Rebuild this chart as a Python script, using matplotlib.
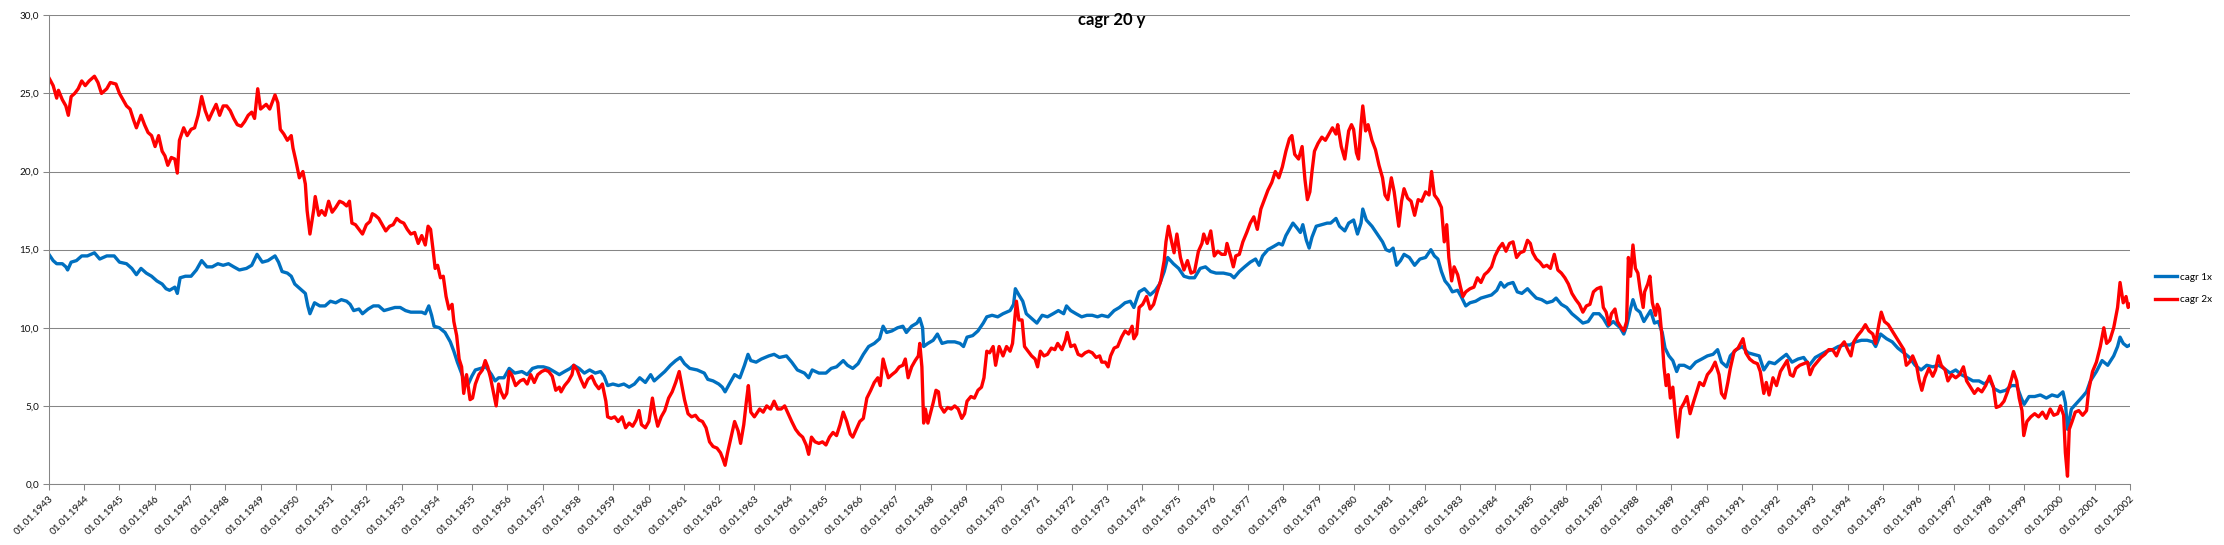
"""
cagr 20 y: rolling 20-year CAGR, 1x vs 2x, 1943-2002.
Values read off the original Excel chart (decimal years).
"""
import matplotlib
matplotlib.use("Agg")
import matplotlib.pyplot as plt
from matplotlib.ticker import FixedLocator, FuncFormatter

plt.rcParams.update({
    "font.family": ["Lato", "DejaVu Sans"],
    "font.size": 7.2,
})

BLUE_C, RED_C, GRID_C = "#0070C0", "#FF0000", "#868686"

# ---------- data ----------
years = list(range(1943, 2003))

dates_1x = [
    1943.00, 1943.12, 1943.22, 1943.38, 1943.48, 1943.53, 1943.63, 1943.78, 1943.93, 1944.09,
    1944.29, 1944.44, 1944.64, 1944.85, 1945.00, 1945.20, 1945.35, 1945.48, 1945.61, 1945.76,
    1945.91, 1946.06, 1946.21, 1946.32, 1946.42, 1946.57, 1946.64, 1946.72, 1946.87, 1947.03,
    1947.18, 1947.33, 1947.48, 1947.63, 1947.79, 1947.94, 1948.09, 1948.24, 1948.40, 1948.60,
    1948.75, 1948.90, 1949.05, 1949.21, 1949.41, 1949.51, 1949.61, 1949.76, 1949.87, 1949.97,
    1950.12, 1950.27, 1950.34, 1950.40, 1950.53, 1950.68, 1950.83, 1950.98, 1951.13, 1951.29,
    1951.44, 1951.54, 1951.64, 1951.79, 1951.89, 1952.05, 1952.20, 1952.35, 1952.50, 1952.66,
    1952.81, 1952.96, 1953.11, 1953.26, 1953.42, 1953.57, 1953.67, 1953.77, 1953.85, 1953.92,
    1954.07, 1954.23, 1954.38, 1954.48, 1954.58, 1954.68, 1954.78, 1954.89, 1954.99, 1955.09,
    1955.24, 1955.39, 1955.55, 1955.65, 1955.75, 1955.90, 1956.05, 1956.21, 1956.41, 1956.56,
    1956.71, 1956.86, 1957.02, 1957.17, 1957.32, 1957.47,
    1957.62, 1957.78, 1957.88, 1958.03, 1958.18, 1958.33, 1958.49, 1958.64, 1958.74, 1958.84,
    1958.99, 1959.15, 1959.30, 1959.45, 1959.60, 1959.75, 1959.91, 1960.06, 1960.16, 1960.31,
    1960.46, 1960.62, 1960.77, 1960.90, 1961.02, 1961.17, 1961.38, 1961.58, 1961.68, 1961.83,
    1961.99, 1962.09, 1962.17, 1962.29, 1962.44, 1962.59, 1962.72, 1962.82, 1962.90, 1963.05,
    1963.20, 1963.41, 1963.56, 1963.71, 1963.91, 1964.06, 1964.22, 1964.42, 1964.54, 1964.64,
    1964.83, 1965.03, 1965.18, 1965.33, 1965.52, 1965.64, 1965.79, 1965.94, 1966.09, 1966.24,
    1966.40, 1966.55, 1966.65, 1966.75, 1966.90, 1967.06, 1967.21, 1967.31, 1967.46, 1967.61,
    1967.69, 1967.77, 1967.80, 1967.92, 1968.07, 1968.19, 1968.32, 1968.48, 1968.68, 1968.83,
    1968.93, 1969.03, 1969.19, 1969.34, 1969.49, 1969.59, 1969.74, 1969.90, 1970.05, 1970.25,
    1970.35, 1970.40, 1970.50, 1970.61, 1970.71, 1970.86, 1971.01, 1971.16, 1971.31, 1971.47,
    1971.62, 1971.77, 1971.85, 1971.97, 1972.12, 1972.28, 1972.43, 1972.58, 1972.73,
    1972.85, 1973.03, 1973.20, 1973.35, 1973.51, 1973.66, 1973.76, 1973.91, 1974.06, 1974.22,
    1974.37, 1974.49, 1974.62, 1974.72, 1974.88, 1975.03, 1975.18, 1975.33, 1975.48, 1975.64,
    1975.79, 1975.94, 1976.09, 1976.30, 1976.50, 1976.60, 1976.75, 1976.90, 1977.06, 1977.21,
    1977.31, 1977.41, 1977.56, 1977.72, 1977.87, 1977.97, 1978.07, 1978.17, 1978.27, 1978.38,
    1978.48, 1978.55, 1978.65, 1978.73, 1978.81, 1978.93, 1979.09, 1979.24, 1979.34, 1979.49,
    1979.59, 1979.74, 1979.85, 1979.99, 1980.10, 1980.20, 1980.25, 1980.35, 1980.51, 1980.66,
    1980.81, 1980.91, 1981.01, 1981.11, 1981.21, 1981.32, 1981.42, 1981.57, 1981.72, 1981.87,
    1982.03, 1982.18, 1982.28, 1982.38, 1982.48, 1982.58, 1982.69, 1982.79, 1982.94, 1983.04,
    1983.17, 1983.29, 1983.45, 1983.60, 1983.75, 1983.90, 1984.05, 1984.16, 1984.26, 1984.36,
    1984.51, 1984.63, 1984.76, 1984.92, 1985.04, 1985.17, 1985.32, 1985.47, 1985.63, 1985.73,
    1985.88, 1986.03, 1986.18, 1986.34, 1986.49, 1986.64, 1986.79, 1986.95, 1987.07, 1987.20,
    1987.35, 1987.45, 1987.55,
    1987.65, 1987.73, 1987.84, 1987.91, 1988.00, 1988.11, 1988.22, 1988.33, 1988.41, 1988.52,
    1988.63, 1988.74, 1988.82, 1988.93, 1989.04, 1989.15, 1989.22, 1989.36, 1989.53, 1989.69,
    1989.86, 1990.02, 1990.18, 1990.31, 1990.42, 1990.57, 1990.67, 1990.84, 1991.01, 1991.17,
    1991.33, 1991.49, 1991.62, 1991.77, 1991.93, 1992.09, 1992.26, 1992.42, 1992.59, 1992.75,
    1992.91, 1993.08, 1993.24, 1993.40, 1993.57, 1993.73, 1993.90, 1994.06, 1994.22, 1994.39,
    1994.55, 1994.71, 1994.79, 1994.93, 1995.10, 1995.26, 1995.42, 1995.59, 1995.75, 1995.91,
    1996.08, 1996.24, 1996.41, 1996.57, 1996.73, 1996.90, 1997.06, 1997.22, 1997.39, 1997.55,
    1997.72, 1997.88, 1998.02, 1998.15, 1998.32, 1998.48, 1998.64, 1998.79, 1998.92, 1999.00,
    1999.14, 1999.30, 1999.46, 1999.63, 1999.79, 1999.95, 2000.10, 2000.17, 2000.23, 2000.34,
    2000.50, 2000.66, 2000.77, 2000.88, 2001.05, 2001.21, 2001.37, 2001.54, 2001.65, 2001.72,
    2001.81, 2001.92, 2002.00,
]
cagr_1x = [
    14.7, 14.3, 14.1, 14.1, 13.9, 13.7, 14.2, 14.3, 14.6, 14.6,
    14.8, 14.4, 14.6, 14.6, 14.2, 14.1, 13.8, 13.4, 13.8, 13.5,
    13.3, 13.0, 12.8, 12.5, 12.4, 12.6, 12.2, 13.2, 13.3, 13.3,
    13.7, 14.3, 13.9, 13.9, 14.1, 14.0, 14.1, 13.9, 13.7, 13.8,
    14.0, 14.7, 14.2, 14.3, 14.6, 14.2, 13.6, 13.5, 13.3, 12.8,
    12.5, 12.2, 11.4, 10.9, 11.6, 11.4, 11.4, 11.7, 11.6, 11.8,
    11.7, 11.5, 11.1, 11.2, 10.9, 11.2, 11.4, 11.4, 11.1, 11.2,
    11.3, 11.3, 11.1, 11.0, 11.0, 11.0, 10.9, 11.4, 10.8, 10.1,
    10.0, 9.7, 9.1, 8.5, 7.8, 7.2, 6.6, 6.4, 6.9, 7.3,
    7.4, 7.5, 7.0, 6.6, 6.8, 6.8, 7.4, 7.1, 7.2, 7.0,
    7.4, 7.5, 7.5, 7.4, 7.2, 7.0,
    7.2, 7.4, 7.6, 7.4, 7.1, 7.3, 7.1, 7.2, 6.9, 6.3,
    6.4, 6.3, 6.4, 6.2, 6.4, 6.8, 6.5, 7.0, 6.6, 6.9,
    7.2, 7.6, 7.9, 8.1, 7.7, 7.4, 7.3, 7.1, 6.7, 6.6,
    6.4, 6.2, 5.9, 6.4, 7.0, 6.8, 7.6, 8.3, 7.9, 7.8,
    8.0, 8.2, 8.3, 8.1, 8.2, 7.8, 7.3, 7.1, 6.8, 7.3,
    7.1, 7.1, 7.4, 7.5, 7.9, 7.6, 7.4, 7.7, 8.3, 8.8,
    9.0, 9.3, 10.1, 9.7, 9.8, 10.0, 10.1, 9.7, 10.1, 10.3,
    10.6, 10.0, 8.8, 9.0, 9.2, 9.6, 9.0, 9.1, 9.1, 9.0,
    8.8, 9.4, 9.5, 9.8, 10.3, 10.7, 10.8, 10.7, 10.9, 11.1,
    11.5, 12.5, 12.1, 11.7, 10.9, 10.6, 10.3, 10.8, 10.7, 10.9,
    11.1, 10.9, 11.4, 11.1, 10.9, 10.7, 10.8, 10.8, 10.7,
    10.8, 10.7, 11.1, 11.3, 11.6, 11.7, 11.3, 12.3, 12.5, 12.1,
    12.4, 12.8, 13.6, 14.5, 14.1, 13.8, 13.3, 13.2, 13.2, 13.8,
    13.9, 13.6, 13.5, 13.5, 13.4, 13.2, 13.6, 13.9, 14.2, 14.4,
    14.0, 14.6, 15.0, 15.2, 15.4, 15.3, 15.9, 16.3, 16.7, 16.4,
    16.1, 16.6, 15.6, 15.1, 15.8, 16.5, 16.6, 16.7, 16.7, 17.0,
    16.5, 16.2, 16.7, 16.9, 16.0, 16.7, 17.6, 16.9, 16.5, 16.0,
    15.5, 15.0, 14.9, 15.1, 14.0, 14.3, 14.7, 14.5, 14.0, 14.4,
    14.5, 15.0, 14.6, 14.4, 13.6, 13.0, 12.7, 12.3, 12.4, 12.0,
    11.4, 11.6, 11.7, 11.9, 12.0, 12.1, 12.4, 12.9, 12.6, 12.8,
    12.9, 12.3, 12.2, 12.5, 12.2, 11.9, 11.8, 11.6, 11.7, 11.9,
    11.5, 11.3, 10.9, 10.6, 10.3, 10.4, 10.9, 10.9, 10.6, 10.1,
    10.4, 10.2, 10.0,
    9.6, 10.1, 11.2, 11.8, 11.2, 11.0, 10.4, 10.8, 11.1, 10.3,
    10.4, 9.7, 8.7, 8.2, 7.9, 7.2, 7.6, 7.6, 7.4, 7.8,
    8.0, 8.2, 8.3, 8.6, 7.8, 7.5, 8.2, 8.6, 8.8, 8.4,
    8.3, 8.2, 7.3, 7.8, 7.7, 8.0, 8.3, 7.8, 8.0, 8.1,
    7.6, 8.1, 8.3, 8.5, 8.6, 8.8, 8.9, 8.9, 9.1, 9.2,
    9.2, 9.1, 8.8, 9.6, 9.3, 9.1, 8.7, 8.4, 8.1, 7.6,
    7.3, 7.6, 7.5, 7.6, 7.4, 7.1, 7.3, 7.0, 6.8, 6.6,
    6.6, 6.4, 6.7, 6.1, 5.9, 6.0, 6.3, 6.3, 5.5, 5.1,
    5.6, 5.6, 5.7, 5.5, 5.7, 5.6, 5.9, 5.2, 3.5, 4.8,
    5.2, 5.6, 5.9, 6.6, 7.2, 7.9, 7.6, 8.2, 8.8, 9.4,
    9.0, 8.8, 8.9,
]

dates_2x = [
    1943.00, 1943.12, 1943.22, 1943.27, 1943.38, 1943.48, 1943.55, 1943.63, 1943.73, 1943.83,
    1943.93, 1944.03, 1944.14, 1944.29, 1944.39, 1944.49, 1944.64, 1944.74, 1944.90, 1945.00,
    1945.10, 1945.20, 1945.30, 1945.40, 1945.48, 1945.61, 1945.71, 1945.81, 1945.91, 1946.01,
    1946.11, 1946.21, 1946.29, 1946.37, 1946.47, 1946.57, 1946.64, 1946.70, 1946.82, 1946.92,
    1947.03, 1947.13, 1947.23, 1947.33, 1947.43, 1947.53, 1947.63, 1947.74, 1947.84, 1947.94,
    1948.04, 1948.14, 1948.24, 1948.34, 1948.45, 1948.55, 1948.65, 1948.75, 1948.83, 1948.92,
    1949.00, 1949.16, 1949.26, 1949.41, 1949.49, 1949.56, 1949.66, 1949.76, 1949.87, 1949.92,
    1950.00, 1950.10, 1950.20, 1950.27, 1950.32, 1950.40, 1950.51, 1950.55, 1950.65, 1950.73,
    1950.83, 1950.93, 1951.03, 1951.13, 1951.24, 1951.34, 1951.44, 1951.52, 1951.59, 1951.69,
    1951.79, 1951.89, 1952.00, 1952.10, 1952.17, 1952.25, 1952.35, 1952.45, 1952.55, 1952.66,
    1952.76, 1952.86, 1952.96, 1953.06, 1953.16, 1953.26, 1953.37, 1953.47, 1953.57, 1953.67,
    1953.75, 1953.82, 1953.89, 1953.95, 1954.02, 1954.10, 1954.18, 1954.26, 1954.34, 1954.43,
    1954.48, 1954.56, 1954.63, 1954.70, 1954.76, 1954.84, 1954.94, 1955.01, 1955.09, 1955.19,
    1955.29, 1955.37, 1955.44, 1955.52, 1955.60, 1955.68, 1955.75, 1955.82, 1955.90, 1955.98,
    1956.05, 1956.12, 1956.23, 1956.36, 1956.46, 1956.56, 1956.66, 1956.76, 1956.86, 1956.97,
    1957.07, 1957.17, 1957.27, 1957.37, 1957.47,
    1957.52, 1957.62, 1957.73, 1957.83, 1957.88, 1957.98, 1958.08, 1958.18, 1958.28, 1958.39,
    1958.49, 1958.59, 1958.69, 1958.79, 1958.84, 1958.94, 1959.04, 1959.14, 1959.25, 1959.35,
    1959.45, 1959.55, 1959.65, 1959.73, 1959.80, 1959.91, 1960.01, 1960.11, 1960.18, 1960.26,
    1960.36, 1960.46, 1960.57, 1960.67, 1960.77, 1960.87, 1960.92, 1961.02, 1961.12, 1961.22,
    1961.33, 1961.43, 1961.53, 1961.63, 1961.73, 1961.83, 1961.94, 1962.04, 1962.11, 1962.17,
    1962.24, 1962.34, 1962.44, 1962.54, 1962.61, 1962.70, 1962.78, 1962.83, 1962.90, 1963.00,
    1963.15, 1963.25, 1963.35, 1963.46, 1963.56, 1963.66, 1963.76, 1963.86, 1963.96, 1964.06,
    1964.17, 1964.27, 1964.37, 1964.47, 1964.54, 1964.62, 1964.72, 1964.83, 1964.93, 1965.03,
    1965.13, 1965.23, 1965.33, 1965.43, 1965.52, 1965.62, 1965.72, 1965.79, 1965.89, 1965.99,
    1966.09, 1966.19, 1966.30, 1966.40, 1966.50, 1966.57, 1966.65, 1966.72, 1966.80, 1966.90,
    1967.01, 1967.11, 1967.21, 1967.28, 1967.36, 1967.46, 1967.56, 1967.65, 1967.69, 1967.75,
    1967.80, 1967.85, 1967.92, 1967.99, 1968.07, 1968.15, 1968.22, 1968.27, 1968.38, 1968.48,
    1968.58, 1968.68, 1968.78, 1968.88, 1968.96, 1969.03, 1969.14, 1969.24, 1969.34, 1969.44,
    1969.51, 1969.59, 1969.67, 1969.77, 1969.84, 1969.94, 1970.05, 1970.15, 1970.25, 1970.32,
    1970.38, 1970.43, 1970.50, 1970.59, 1970.66, 1970.76, 1970.86, 1970.96, 1971.03, 1971.11,
    1971.21, 1971.31, 1971.42, 1971.52, 1971.60, 1971.72, 1971.82, 1971.87, 1971.97, 1972.08,
    1972.18, 1972.28, 1972.38, 1972.48, 1972.58, 1972.69, 1972.79,
    1972.85, 1972.95, 1973.03, 1973.10, 1973.20, 1973.30, 1973.41, 1973.51, 1973.61, 1973.71,
    1973.76, 1973.84, 1973.91, 1974.01, 1974.12, 1974.22, 1974.32, 1974.42, 1974.52, 1974.62,
    1974.67, 1974.74, 1974.83, 1974.90, 1974.98, 1975.08, 1975.18, 1975.28, 1975.38, 1975.48,
    1975.59, 1975.69, 1975.74, 1975.84, 1975.94, 1975.99, 1976.04, 1976.14, 1976.25, 1976.35,
    1976.40, 1976.50, 1976.58, 1976.65, 1976.75, 1976.85, 1976.96, 1977.06, 1977.16, 1977.26,
    1977.36, 1977.46, 1977.56, 1977.67, 1977.77, 1977.87, 1977.97, 1978.07, 1978.17, 1978.24,
    1978.32, 1978.43, 1978.53, 1978.61, 1978.68, 1978.75, 1978.81, 1978.88, 1978.98, 1979.09,
    1979.19, 1979.29, 1979.39, 1979.49, 1979.54, 1979.64, 1979.74, 1979.85, 1979.93, 1979.99,
    1980.07, 1980.13, 1980.20, 1980.25, 1980.33, 1980.40, 1980.51, 1980.61, 1980.71, 1980.81,
    1980.88, 1980.96, 1981.06, 1981.14, 1981.21, 1981.27, 1981.35, 1981.42, 1981.52, 1981.62,
    1981.72, 1981.82, 1981.92, 1982.03, 1982.13, 1982.20, 1982.28, 1982.38, 1982.48, 1982.56,
    1982.63, 1982.69, 1982.77, 1982.84, 1982.94, 1983.02, 1983.09, 1983.17, 1983.29, 1983.40,
    1983.50, 1983.60, 1983.70, 1983.80, 1983.90, 1984.00, 1984.11, 1984.21, 1984.31, 1984.41,
    1984.51, 1984.61, 1984.71, 1984.82, 1984.92, 1985.00, 1985.07, 1985.17, 1985.27, 1985.37,
    1985.47, 1985.57, 1985.68, 1985.78, 1985.88, 1985.98, 1986.08, 1986.18, 1986.29, 1986.39,
    1986.49, 1986.59, 1986.69, 1986.79, 1986.89, 1987.00, 1987.07, 1987.15, 1987.23, 1987.30,
    1987.40, 1987.47, 1987.55,
    1987.65, 1987.73, 1987.78, 1987.84, 1987.91, 1987.98, 1988.05, 1988.11, 1988.20, 1988.24,
    1988.33, 1988.39, 1988.46, 1988.55, 1988.60, 1988.66, 1988.73, 1988.79, 1988.85, 1988.91,
    1988.97, 1989.04, 1989.11, 1989.18, 1989.26, 1989.36, 1989.44, 1989.53, 1989.62, 1989.69,
    1989.80, 1989.91, 1990.02, 1990.13, 1990.24, 1990.35, 1990.42, 1990.51, 1990.60, 1990.67,
    1990.78, 1990.89, 1991.03, 1991.11, 1991.22, 1991.33, 1991.44, 1991.52, 1991.62, 1991.69,
    1991.77, 1991.88, 1991.98, 1992.09, 1992.20, 1992.28, 1992.37, 1992.45, 1992.53, 1992.64,
    1992.75, 1992.86, 1992.93, 1993.02, 1993.13, 1993.24, 1993.35, 1993.46, 1993.57, 1993.68,
    1993.79, 1993.90, 1994.00, 1994.09, 1994.17, 1994.28, 1994.39, 1994.50, 1994.60, 1994.71,
    1994.79, 1994.88, 1994.95, 1995.04, 1995.15, 1995.26, 1995.37, 1995.48, 1995.59, 1995.66,
    1995.75, 1995.84, 1995.95, 1996.02, 1996.10, 1996.19, 1996.30, 1996.41, 1996.49, 1996.57,
    1996.65, 1996.76, 1996.84, 1996.95, 1997.06, 1997.17, 1997.28, 1997.37, 1997.48, 1997.59,
    1997.69, 1997.80, 1997.91, 1998.02, 1998.13, 1998.21, 1998.32, 1998.43, 1998.53, 1998.64,
    1998.70, 1998.79, 1998.86, 1998.94, 1998.99, 1999.08, 1999.19, 1999.30, 1999.41, 1999.52,
    1999.63, 1999.74, 1999.84, 1999.95, 2000.03, 2000.12, 2000.17, 2000.23, 2000.28, 2000.36,
    2000.45, 2000.55, 2000.66, 2000.77, 2000.83, 2000.94, 2001.05, 2001.16, 2001.26, 2001.34,
    2001.43, 2001.54, 2001.65, 2001.72, 2001.81, 2001.89, 2001.95, 2002.00,
]
cagr_2x = [
    26.0, 25.5, 24.7, 25.2, 24.6, 24.2, 23.6, 24.8, 25.0, 25.3,
    25.8, 25.5, 25.8, 26.1, 25.7, 25.0, 25.3, 25.7, 25.6, 25.0,
    24.6, 24.2, 24.0, 23.3, 22.8, 23.6, 23.0, 22.5, 22.3, 21.6,
    22.3, 21.3, 21.0, 20.4, 20.9, 20.8, 19.9, 22.0, 22.8, 22.3,
    22.7, 22.8, 23.6, 24.8, 23.9, 23.3, 23.8, 24.3, 23.6, 24.2,
    24.2, 23.9, 23.4, 23.0, 22.9, 23.2, 23.6, 23.8, 23.4, 25.3,
    24.0, 24.3, 24.0, 24.9, 24.4, 22.7, 22.4, 22.0, 22.3, 21.5,
    20.7, 19.6, 20.0, 19.2, 17.5, 16.0, 17.6, 18.4, 17.2, 17.5,
    17.2, 18.1, 17.4, 17.7, 18.1, 18.0, 17.8, 18.1, 16.7, 16.6,
    16.3, 16.0, 16.6, 16.8, 17.3, 17.2, 17.0, 16.6, 16.2, 16.5,
    16.6, 17.0, 16.8, 16.7, 16.3, 16.0, 16.1, 15.4, 15.9, 15.3,
    16.5, 16.3, 15.0, 13.8, 14.0, 13.2, 13.3, 12.0, 11.2, 11.5,
    10.4, 9.5, 8.0, 7.5, 5.8, 7.0, 5.4, 5.5, 6.4, 7.0,
    7.3, 7.9, 7.5, 6.8, 5.9, 5.0, 6.4, 5.9, 5.5, 5.8,
    7.2, 7.0, 6.3, 6.6, 6.7, 6.4, 7.0, 6.5, 7.0, 7.2,
    7.3, 7.2, 6.9, 6.0, 6.2,
    5.9, 6.3, 6.6, 7.0, 7.6, 7.3, 6.7, 6.2, 6.7, 6.9,
    6.4, 6.1, 6.4, 5.3, 4.3, 4.2, 4.3, 4.0, 4.3, 3.6,
    3.9, 3.7, 4.1, 4.7, 3.8, 3.6, 4.0, 5.5, 4.5, 3.7,
    4.3, 4.7, 5.5, 5.9, 6.5, 7.2, 6.6, 5.4, 4.5, 4.3,
    4.4, 4.1, 4.0, 3.6, 2.7, 2.4, 2.3, 2.0, 1.6, 1.2,
    2.0, 3.0, 4.0, 3.4, 2.6, 3.8, 5.4, 6.3, 4.6, 4.3,
    4.8, 4.6, 5.0, 4.8, 5.3, 4.8, 4.8, 5.0, 4.5, 4.0,
    3.5, 3.2, 3.0, 2.5, 1.9, 3.0, 2.7, 2.6, 2.7, 2.5,
    3.0, 3.3, 3.1, 3.8, 4.6, 4.0, 3.2, 3.0, 3.5, 4.0,
    4.2, 5.5, 6.0, 6.5, 6.8, 6.3, 8.0, 7.4, 6.8, 7.0,
    7.2, 7.5, 7.6, 8.0, 6.8, 7.5, 7.9, 8.2, 9.0, 7.5,
    3.9, 4.8, 3.9, 4.5, 5.2, 6.0, 5.9, 5.0, 4.6, 4.9,
    4.8, 5.0, 4.8, 4.2, 4.5, 5.3, 5.6, 5.5, 6.0, 6.2,
    6.8, 8.5, 8.4, 8.8, 7.6, 8.8, 8.2, 8.8, 8.5, 9.0,
    10.5, 11.7, 10.5, 10.5, 8.8, 8.5, 8.2, 8.0, 7.5, 8.5,
    8.2, 8.3, 8.7, 8.6, 9.0, 8.6, 9.2, 9.7, 8.8, 8.9,
    8.3, 8.2, 8.4, 8.5, 8.4, 8.1, 8.2,
    7.8, 7.8, 7.5, 8.2, 8.7, 8.8, 9.4, 9.8, 9.6, 10.1,
    9.3, 9.6, 11.3, 11.5, 12.0, 11.2, 11.5, 12.3, 13.0, 14.3,
    15.5, 16.5, 15.5, 14.8, 16.0, 14.5, 13.7, 14.3, 13.5, 13.6,
    14.9, 15.4, 16.0, 15.4, 16.2, 15.4, 14.6, 14.9, 14.7, 14.7,
    15.4, 14.6, 13.9, 14.6, 14.7, 15.5, 16.1, 16.7, 17.1, 16.3,
    17.6, 18.2, 18.8, 19.3, 20.0, 19.6, 20.3, 21.3, 22.1, 22.3,
    21.1, 20.8, 21.6, 19.5, 18.2, 18.7, 20.0, 21.3, 21.8, 22.2,
    22.0, 22.4, 22.8, 22.4, 23.0, 21.6, 20.8, 22.6, 23.0, 22.7,
    21.2, 20.8, 23.0, 24.2, 22.6, 23.0, 22.0, 21.4, 20.4, 19.6,
    18.5, 18.2, 19.6, 18.7, 17.5, 16.5, 18.1, 18.9, 18.3, 18.1,
    17.2, 18.2, 18.1, 18.7, 18.5, 20.0, 18.5, 18.2, 17.7, 15.5,
    16.6, 14.5, 13.0, 13.9, 13.4, 12.6, 12.0, 12.3, 12.5, 12.6,
    13.2, 12.9, 13.4, 13.6, 13.9, 14.6, 15.1, 15.4, 14.9, 15.4,
    15.5, 14.5, 14.8, 14.9, 15.6, 15.4, 14.8, 14.4, 14.2, 13.9,
    14.0, 13.8, 14.7, 13.7, 13.5, 13.2, 12.8, 12.2, 11.8, 11.5,
    11.0, 11.4, 11.5, 12.3, 12.5, 12.6, 11.3, 11.0, 10.2, 10.9,
    11.2, 10.4, 10.1,
    9.8, 10.4, 14.5, 13.3, 15.3, 13.8, 13.5, 12.5, 11.3, 12.3,
    12.8, 13.3, 11.6, 10.8, 11.5, 11.2, 9.5, 7.5, 6.3, 7.0,
    5.5, 6.2, 4.5, 3.0, 4.8, 5.2, 5.6, 4.5, 5.2, 5.7,
    6.5, 6.3, 7.0, 7.3, 7.8, 7.0, 5.8, 5.5, 6.5, 7.4,
    8.5, 8.7, 9.3, 8.4, 8.0, 7.8, 7.7, 7.2, 5.8, 6.5,
    5.7, 6.8, 6.3, 7.2, 7.6, 7.9, 7.0, 6.9, 7.4, 7.6,
    7.7, 7.8, 7.0, 7.5, 7.8, 8.1, 8.3, 8.6, 8.6, 8.2,
    8.8, 9.1, 8.6, 8.2, 9.1, 9.5, 9.8, 10.2, 9.8, 9.6,
    9.0, 10.2, 11.0, 10.4, 10.2, 9.8, 9.4, 9.0, 8.6, 7.6,
    7.8, 8.2, 7.6, 6.7, 6.0, 6.8, 7.4, 6.9, 7.3, 8.2,
    7.6, 7.3, 6.6, 7.0, 6.8, 7.0, 7.5, 6.6, 6.2, 5.8,
    6.1, 5.9, 6.3, 6.9, 6.2, 4.9, 5.0, 5.3, 5.9, 6.7,
    7.2, 6.6, 5.5, 4.7, 3.1, 4.0, 4.3, 4.5, 4.3, 4.6,
    4.2, 4.8, 4.4, 4.5, 5.0, 4.4, 2.0, 0.5, 3.5, 4.0,
    4.6, 4.7, 4.4, 4.7, 6.0, 7.2, 7.8, 8.8, 10.0, 9.0,
    9.2, 10.0, 11.3, 12.9, 11.6, 12.0, 11.3, 11.5,
]

series_labels = ["cagr 1x", "cagr 2x"]
y_ticks = [0, 5, 10, 15, 20, 25, 30]

# ---------- plot ----------
fig = plt.figure(figsize=(22.24, 5.45), dpi=100)
ax = fig.add_axes([0.0220, 0.1119, 0.9357, 0.8600])

ax.plot(dates_1x, cagr_1x, color=BLUE_C, lw=2.4, label=series_labels[0], solid_joinstyle="round")
ax.plot(dates_2x, cagr_2x, color=RED_C, lw=2.4, label=series_labels[1], solid_joinstyle="round")

ax.set_xlim(years[0], years[-1])
ax.set_ylim(y_ticks[0], y_ticks[-1])

ax.yaxis.set_major_locator(FixedLocator(y_ticks))
ax.yaxis.set_major_formatter(FuncFormatter(lambda v, _: f"{v:.1f}".replace(".", ",")))
ax.xaxis.set_major_locator(FixedLocator(years))
ax.set_xticklabels([f"01.01.{y}" for y in years], rotation=45, ha="right", va="top",
                   rotation_mode="anchor")

ax.grid(axis="y", color=GRID_C, lw=0.75)
ax.set_axisbelow(True)
for side in ("top", "right"):
    ax.spines[side].set_visible(False)
for side in ("left", "bottom"):
    ax.spines[side].set_color(GRID_C)
    ax.spines[side].set_linewidth(0.75)
ax.tick_params(axis="both", colors=GRID_C, length=4, width=0.75, labelcolor="#111111",
               labelsize=7.2)
ax.tick_params(axis="x", pad=3)
ax.tick_params(axis="y", pad=3)

fig.text(0.5, 0.963, "cagr 20 y", ha="center", va="center", fontsize=12, fontweight="bold")

ax.legend(loc="upper left", bbox_to_anchor=(0.969, 0.500), bbox_transform=fig.transFigure,
          frameon=False, handlelength=2.2, handletextpad=0.3, labelspacing=1.4,
          borderpad=0, borderaxespad=0, fontsize=7.2)

fig.savefig("out.png", dpi=100)
